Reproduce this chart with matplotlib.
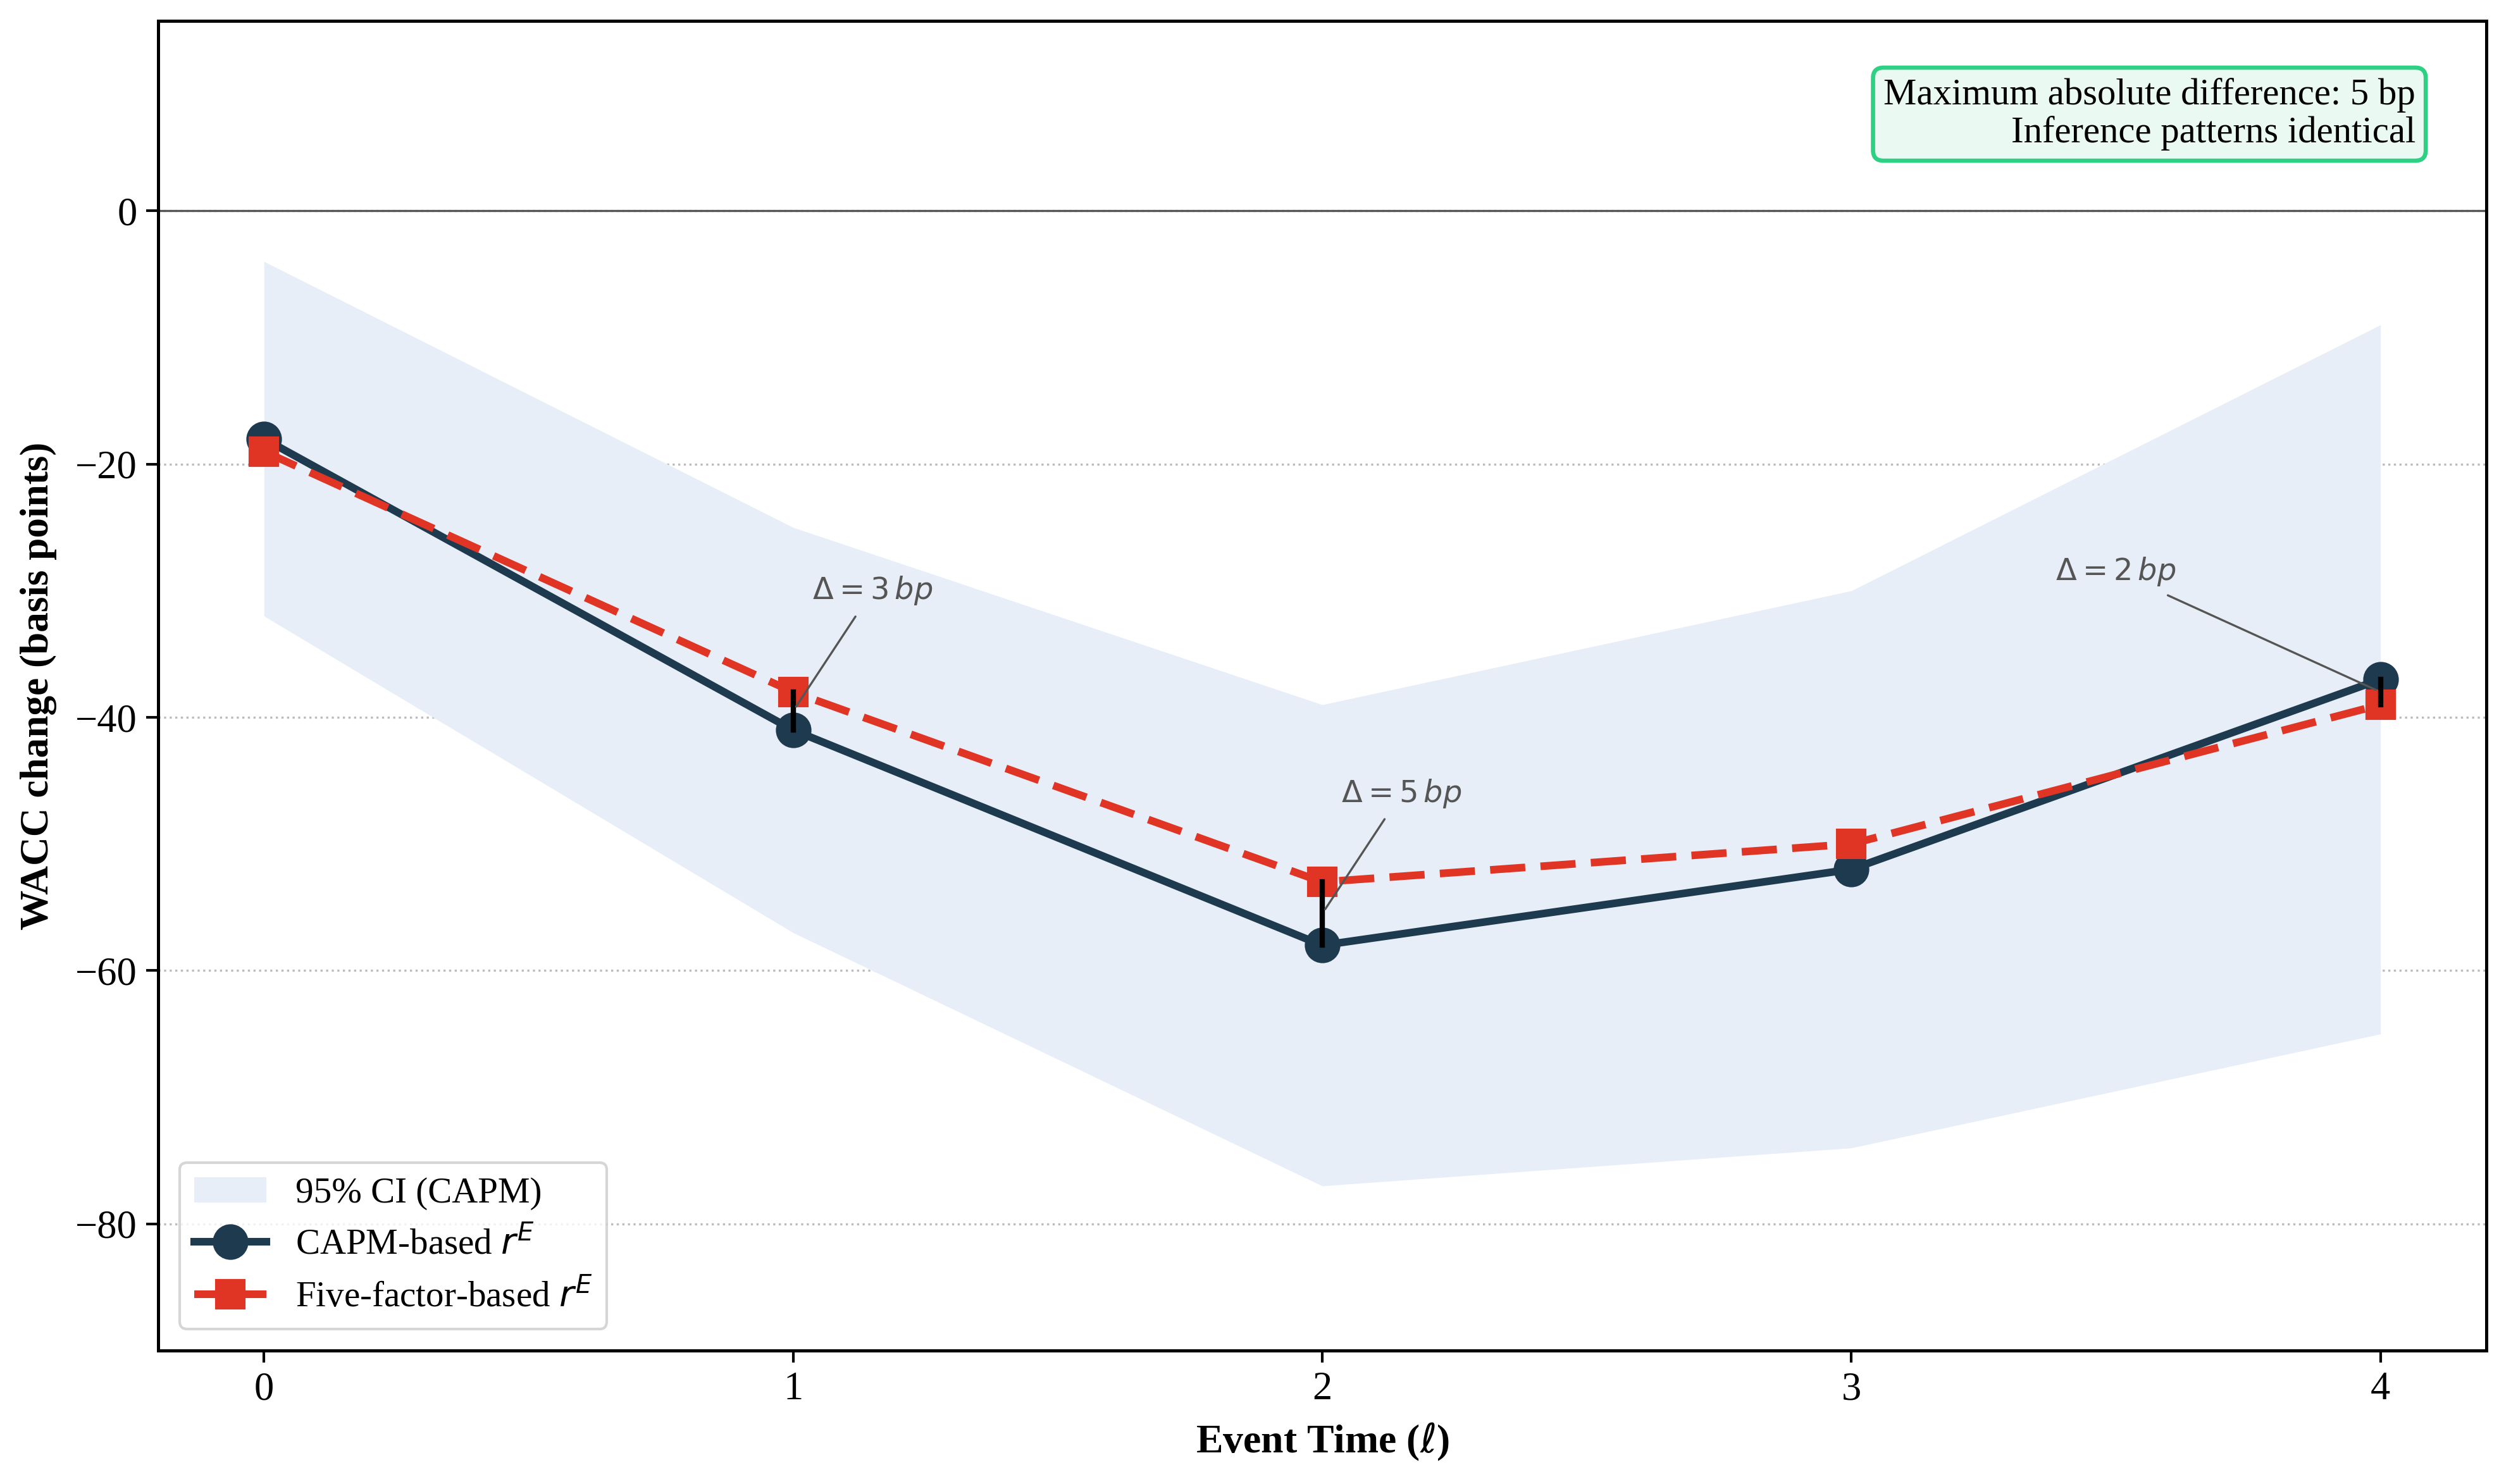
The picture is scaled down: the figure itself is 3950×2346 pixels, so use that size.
import matplotlib
matplotlib.use("Agg")
import matplotlib.pyplot as plt

# ---- data ----
event_time = [0, 1, 2, 3, 4]
capm = [-18, -41, -58, -52, -37]
five_factor = [-19, -38, -53, -50, -39]
ci_upper = [-4, -25, -39, -30, -9]
ci_lower = [-32, -57, -77, -74, -65]
annot_points = [1, 2, 4]
annot_dx = [0.15, 0.15, -0.5]
annot_dy = [9.5, 9.5, 9.5]

plt.rcParams['font.family'] = ['Liberation Serif', 'DejaVu Serif']
plt.rcParams['mathtext.fontset'] = 'dejavusans'

C_CAPM = '#1e3a4f'
C_FF = '#e03524'
C_CI = '#e8eef7'

fig = plt.figure(figsize=(3950/300, 2346/300), dpi=300)
ax = fig.add_axes([250/3950, 1-2135/2346, (3930-250)/3950, (2135-33)/2346])

ax.fill_between(event_time, ci_lower, ci_upper, color=C_CI, lw=0, label='95% CI (CAPM)', zorder=1)
ax.axhline(0, color='#555555', lw=0.8, zorder=2)
ax.plot(event_time, capm, color=C_CAPM, lw=2.9, marker='o', ms=12.5, label='CAPM-based $r^E$', zorder=4)
ax.plot(event_time, five_factor, color=C_FF, lw=2.9, ls=(0, (4.6, 2.0)), marker='s', ms=10.5,
        label='Five-factor-based $r^E$', zorder=5)

for x, dx, dy in zip(annot_points, annot_dx, annot_dy):
    a = capm[x]
    b = five_factor[x]
    ax.plot([x, x], [a, b], color='black', lw=2, zorder=6)
    mid = (a + b) / 2
    d = abs(a - b)
    ax.annotate(r'$\Delta = %d\,bp$' % d, xy=(x, mid), xytext=(x + dx, mid + dy),
                ha='center', va='center', fontsize=11.5, color='#555555',
                arrowprops=dict(arrowstyle='-', color='#555555', lw=0.8), zorder=7)

ax.set_xlim(-0.2, 4.2)
ax.set_ylim(-90, 15)
ax.set_xticks(event_time)
ax.set_yticks([0, -20, -40, -60, -80])
ax.grid(axis='y', ls=':', color='#bbbbbb', lw=0.8, zorder=0)
ax.set_axisbelow(True)
ax.tick_params(labelsize=15, length=4.5, width=1)
for s in ax.spines.values():
    s.set_linewidth(1.2)

ax.set_xlabel(r'Event Time ($\ell$)', fontsize=15.3, fontweight='bold', labelpad=5)
ax.set_ylabel('WACC change (basis points)', fontsize=15.2, fontweight='bold', labelpad=7)

ax.text(0.9695, 0.957, 'Maximum absolute difference: 5 bp\nInference patterns identical',
        transform=ax.transAxes, ha='right', va='top', fontsize=14.1, multialignment='right',
        linespacing=1.1,
        bbox=dict(boxstyle='round,pad=0.28', facecolor='#eafaf3', edgecolor='#2ed184', lw=1.6),
        zorder=8)

leg = ax.legend(loc='lower left', fontsize=13.7, frameon=True, fancybox=True,
                borderaxespad=0.6, labelspacing=0.45)
leg.get_frame().set_edgecolor('#cccccc')
leg.get_frame().set_linewidth(1.0)

fig.savefig('out.png', dpi=300)
